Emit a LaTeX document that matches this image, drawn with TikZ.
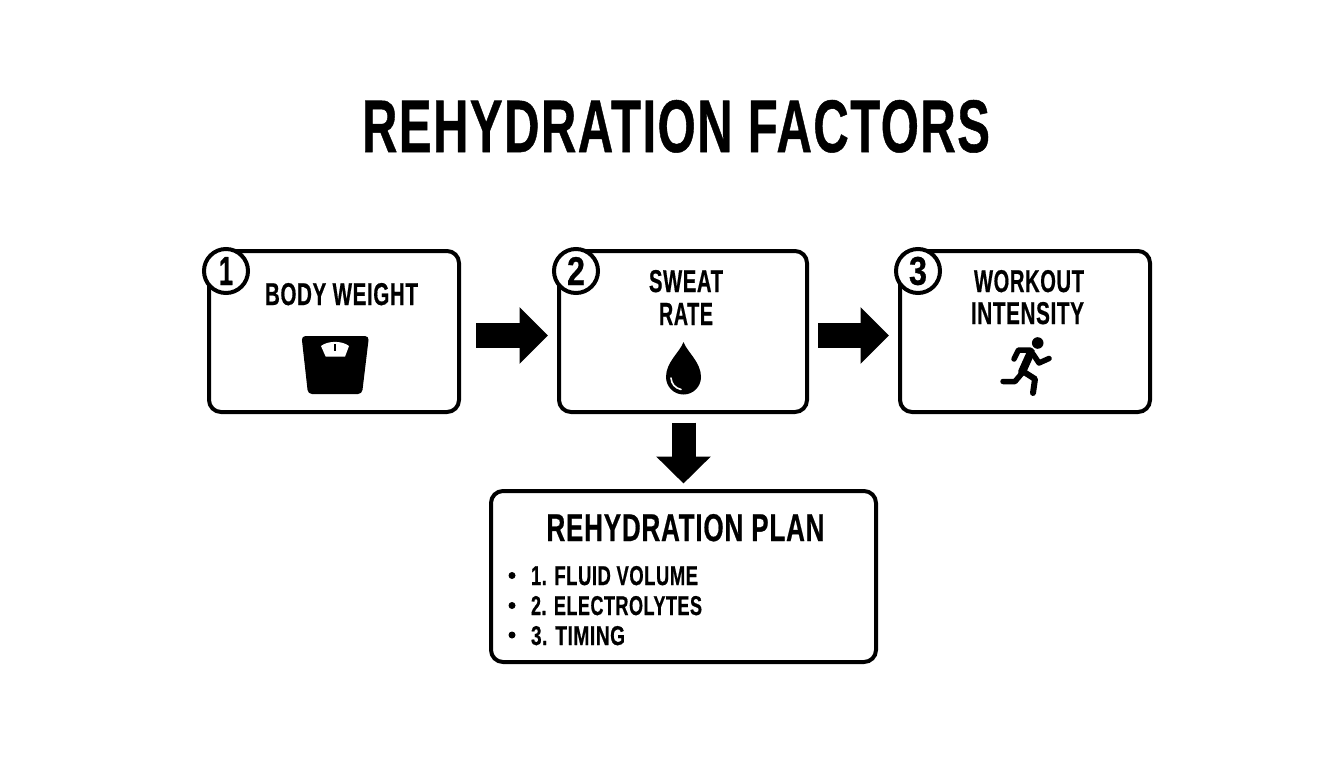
\documentclass[tikz,border=0pt]{standalone}
\usepackage{fontspec}
\setmainfont{Liberation Sans}[BoldFeatures={FakeBold=0.7,LetterSpace=3}]
\usetikzlibrary{arrows.meta,calc}
\newcommand{\ft}[3]{\resizebox{#1pt}{#2pt}{\bfseries #3}}
\tikzset{
  x=1pt,y=-1pt,
  card/.style={draw=black,line width=4pt,rounded corners=12pt,fill=white,inner sep=0pt,outer sep=0pt},
  badge/.style={circle,draw=black,line width=4pt,fill=white,minimum size=44pt,inner sep=0pt,outer sep=0pt},
  lbl/.style={inner sep=0pt,outer sep=0pt,anchor=base,text=black},
  lblw/.style={inner sep=0pt,outer sep=0pt,anchor=base west,text=black},
  flow/.style={line width=25pt,draw=black,-{Triangle[length=28.5pt,width=55pt]}},
  flowd/.style={line width=24pt,draw=black,-{Triangle[length=27pt,width=53pt]}},
  limb/.style={draw=black,line cap=round,line join=round}
}
\begin{document}
\begin{tikzpicture}
\useasboundingbox (0,0) rectangle (1344,768);
\fill[white] (0,0) rectangle (1344,768);
\node[lbl] (title) at (676,152) {\ft{628}{52}{REHYDRATION FACTORS}};
% boxes
\node[card,minimum width=250pt,minimum height=161pt] (b1) at (334,331.5) {};
\node[card,minimum width=248pt,minimum height=161pt] (b2) at (683,331.5) {};
\node[card,minimum width=250pt,minimum height=161pt] (b3) at (1025,331.5) {};
\node[card,minimum width=385pt,minimum height=171pt] (b4) at (683.5,576.5) {};
% badges
\node[badge] (c1) at (226,271) {\ft{14}{28}{1}};
\node[badge] (c2) at (576,271) {\ft{18}{28}{2}};
\node[badge] (c3) at (918,271) {\ft{18}{28}{3}};
% labels
\node[lbl] (t1) at (341.5,305) {\ft{153}{22}{BODY WEIGHT}};
\node[lbl] (t2a) at (686,292) {\ft{74}{22}{SWEAT}};
\node[lbl] (t2b) at (686,325) {\ft{54}{22}{RATE}};
\node[lbl] (t3a) at (1029,292) {\ft{110}{22}{WORKOUT}};
\node[lbl] (t3b) at (1027.5,324) {\ft{113}{22}{INTENSITY}};
\node[lbl] (t4) at (685.5,541) {\ft{278}{27}{REHYDRATION PLAN}};
\node[lblw] (l1) at (531,585) {\ft{167}{19}{1. FLUID VOLUME}};
\node[lblw] (l2) at (531,615) {\ft{171}{19}{2. ELECTROLYTES}};
\node[lblw] (l3) at (531,645) {\ft{94}{19}{3. TIMING}};
\fill (512,575.5) circle (3.5);
\fill (512,605.5) circle (3.5);
\fill (512,635) circle (3.5);
% connectors
\draw[flow] ($(b1.east)+(17,4)$) -- ($(b2.west)+(-11,4)$);
\draw[flow] ($(b2.east)+(11,4)$) -- ($(b3.west)+(-11,4)$);
\draw[flowd] ($(b2.south)+(0.5,10.5)$) -- ($(b4.north)+(0,-7.5)$);
% scale
\fill[rounded corners=4pt] (301.5,336) -- (369,336) -- (362,394) -- (308,394) -- cycle;
\fill[white] (321,346) .. controls (328,340.5) and (342,340.5) .. (349,346) -- (345,356.7) -- (325.7,356.7) -- cycle;
\draw[line width=1.4pt] (335,344) -- (335,351);
% drop
\fill (683.5,342) .. controls (680,352) and (666,362) .. (666,377) arc[start angle=180,end angle=0,radius=17.5] .. controls (701,362) and (687,352) .. (683.5,342) -- cycle;
\draw[white,line width=1.6pt,line cap=round] (671,378) .. controls (671.5,384) and (675,388) .. (681,389.5);
% runner
\fill (1037.7,343) circle (5.8);
\draw[limb,line width=8pt] (1031,352) -- (1022,372);
\draw[limb,line width=5.5pt] (1030,350) -- (1018.5,350) -- (1014,359);
\draw[limb,line width=5.5pt] (1033,354) -- (1039,363) -- (1049,358.5);
\draw[limb,line width=5.5pt] (1023,372) -- (1015,381.5) -- (1003,381.5);
\draw[limb,line width=6pt] (1024,372) -- (1035,379) -- (1033,393);
\end{tikzpicture}
\end{document}
